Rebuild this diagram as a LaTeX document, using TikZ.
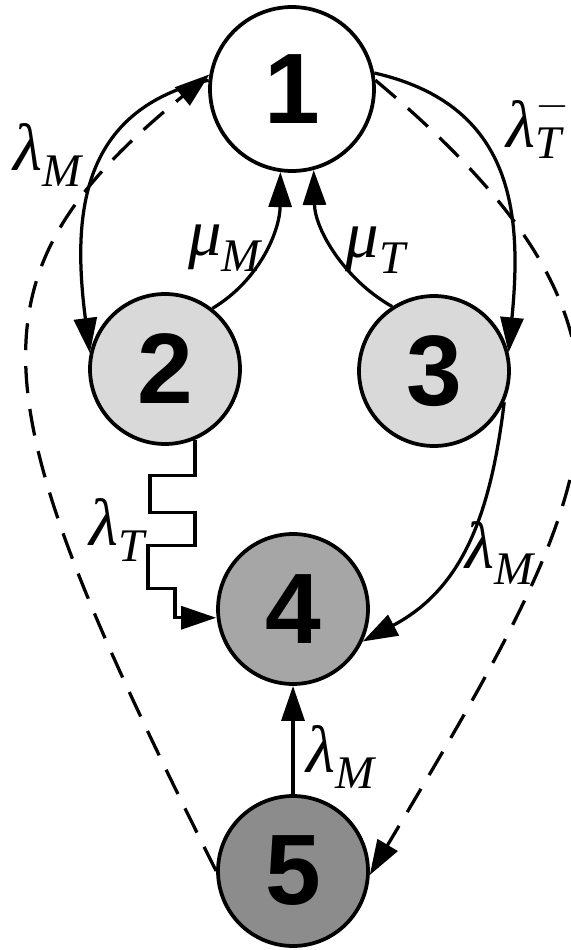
\documentclass[tikz,border=0pt]{standalone}
\usepackage{fontspec}
\usepackage{amsmath}
\setmainfont{Liberation Serif}
\newfontfamily\numfont{Liberation Sans}
\usetikzlibrary{arrows.meta}
\definecolor{lightgr}{HTML}{D9D9D9}
\definecolor{midgr}{HTML}{A6A6A6}
\definecolor{darkgr}{HTML}{8C8C8C}
\newcommand{\rate}[2]{$\text{\itshape #1}_{\text{\itshape #2}}$}

\begin{document}
\begin{tikzpicture}[x=0.02cm, y=0.02cm, line width=0.065cm,
    state/.style={circle, draw, line width=0.075cm, inner sep=0pt, minimum size=3.0cm,
        font=\numfont\bfseries\fontsize{57}{60}\selectfont},
    arr/.style={-{Triangle[length=0.7cm, width=0.46cm]}},
    dashline/.style={dash pattern=on 0.54cm off 0.32cm},
    lab/.style={inner sep=0pt, font=\fontsize{38}{40}\selectfont}]
\useasboundingbox (0,0) rectangle (571,-950);

    \node[state, fill=white, minimum size=3.28cm] (n1) at (292,-89) {1};
    \node[state, fill=lightgr] (n2) at (165,-369) {2};
    \node[state, fill=lightgr] (n3) at (434,-371) {3};
    \node[state, fill=midgr] (n4) at (293,-609) {4};
    \node[state, fill=darkgr] (n5) at (293,-871) {5};

    \draw[arr] (n1.174) .. controls (80,-110) and (72,-215) .. (n2.168);
    \draw[arr] (n2.52) .. controls (260,-280) and (280,-230) .. (n1.262);
    \draw[arr] (n3.123) .. controls (345,-280) and (315,-230) .. (n1.285);
    \draw[arr] (n1.11) .. controls (515,-105) and (522,-215) .. (n3.14);
    \draw[arr] (n3.336) .. controls (490,-520) and (460,-590) .. (n4.335);
    \draw[arr] (n5) -- (n4);
    \draw[arr] (n2.293) -- ++(0,-36) -- ++(-45,0) -- ++(0,-37) -- ++(45,0)
        -- ++(0,-33) -- ++(-47,0) -- ++(0,-43) -- ++(27,0) -- ++(0,-29)
        coordinate (zz) -- (zz -| n4.west);

    \draw[arr, dashline] (n5.180) .. controls (-20,-400) and (-43,-280) .. (n1.170);
    \draw[arr, dashline] (n1.6) .. controls (685,-340) and (605,-480) .. (n5.357);

    \node[lab] (l12) at (48,-155) {\rate{λ}{M}};
    \node[lab] (l21) at (225,-248) {\rate{μ}{M}};
    \node[lab] (l31) at (376,-250) {\rate{μ}{T}};
    \node[lab] (l13) at (538,-125) {$\text{\itshape λ}^{-}_{\text{\itshape T}}$};
    \node[lab] (l24) at (117,-530) {\rate{λ}{T}};
    \node[lab] (l34) at (500,-553) {\rate{λ}{M}};
    \node[lab] (l54) at (341,-757) {\rate{λ}{M}};
\end{tikzpicture}
\end{document}
